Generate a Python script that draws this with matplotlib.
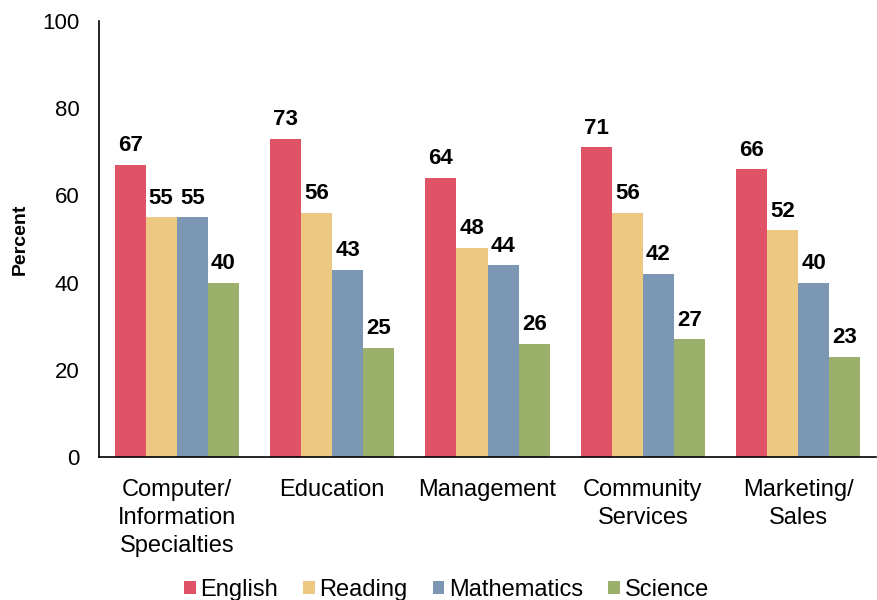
import numpy as np
import matplotlib.pyplot as plt

plt.rcParams['font.family'] = ['Liberation Sans', 'DejaVu Sans']

categories = ["Computer/\nInformation\nSpecialties", "Education", "Management",
              "Community\nServices", "Marketing/\nSales"]
series = ["English", "Reading", "Mathematics", "Science"]
english = [67, 73, 64, 71, 66]
reading = [55, 56, 48, 56, 52]
mathematics = [55, 43, 44, 42, 40]
science = [40, 25, 26, 27, 23]
colors = ["#E05366", "#EDC883", "#7B97B3", "#9BB06A"]

values = [english, reading, mathematics, science]

fig = plt.figure(figsize=(8.77, 6), dpi=100)
ax = fig.add_axes([0.1129, 0.238, 0.886, 0.727])

x = np.arange(len(categories))
w = 0.2
for i, (name, vals) in enumerate(zip(series, values)):
    pos = x + (i - 1.5) * w
    bars = ax.bar(pos, vals, width=w, color=colors[i], label=name,
                  edgecolor='none')
    for b, v in zip(bars, vals):
        ax.text(b.get_x() + b.get_width() / 2, v + 2.0, str(v),
                ha='center', va='bottom', fontsize=16, fontweight='bold')

ax.set_xlim(-0.5, 4.5)
ax.set_ylim(0, 100)
ax.set_yticks([0, 20, 40, 60, 80, 100])
ax.set_xticks(x, categories)
ax.tick_params(axis='both', length=0)
ax.tick_params(axis='x', pad=16, labelsize=17)
ax.tick_params(axis='y', pad=14, labelsize=16)
for lab in ax.get_xticklabels():
    lab.set_linespacing(1.35)
ax.set_ylabel("Percent", fontsize=14, fontweight='bold', labelpad=10)

for s in ['top', 'right']:
    ax.spines[s].set_visible(False)
ax.spines['left'].set_linewidth(1.2)
ax.spines['bottom'].set_linewidth(1.2)

ax.legend(loc='lower center', bbox_to_anchor=(0.447, -0.378), ncol=4,
          frameon=False, fontsize=17, handlelength=0.5, handleheight=0.5,
          handletextpad=0.2, columnspacing=1.05)

fig.savefig("out.png", dpi=100)
